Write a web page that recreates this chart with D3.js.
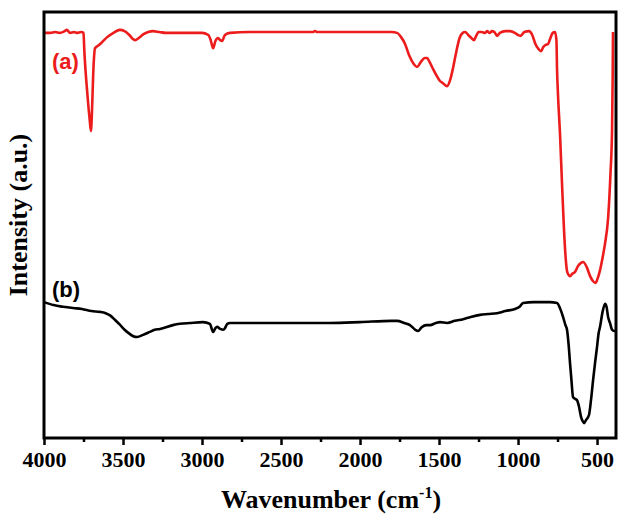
<!DOCTYPE html>
<html>
<head>
<meta charset="utf-8">
<script src="https://cdn.jsdelivr.net/npm/d3@7"></script>
<style>
  html, body { margin: 0; padding: 0; background: #fff; }
  svg { display: block; }
</style>
</head>
<body>
<svg id="chart" width="624" height="519"></svg>
<script>
// ---- Data (wavenumber cm^-1, intensity a.u.) ----
const wavenumberA = [4000,3960,3930,3900,3870,3855,3835,3810,3790,3765,3750,3745,3725,3710,3703,3696,3688,3677,3650,3620,3600,3560,3520,3490,3460,3435,3424,3400,3370,3340,3310,3270,3230,3100,3000,2960,2945,2930,2915,2899,2885,2873,2855,2823,2700,2500,2300,2285,2270,2000,1800,1766,1740,1715,1690,1660,1639,1615,1590,1576,1560,1535,1510,1494,1475,1460,1449,1430,1410,1390,1370,1350,1335,1315,1295,1279,1265,1250,1230,1210,1195,1180,1165,1150,1132,1115,1080,1050,1020,1000,985,960,930,910,890,870,855,840,825,810,795,780,766,757,753,747,734,722,709,698,690,680,671,655,639,620,601,588,565,544,525,510,495,481,465,450,430,415,405,401,399];
const intensityA  = [95.1,95.1,95.3,95.1,95.5,95.8,95.1,95.3,95.1,95.3,95.1,91.1,80.5,74.4,72.1,77.0,86.0,91.5,92.3,93.4,94.1,95.1,95.8,95.5,94.6,93.6,93.4,93.9,94.8,95.3,95.5,95.3,95.1,95.1,95.1,94.6,93.4,91.5,93.2,93.9,93.4,93.2,94.6,95.1,95.3,95.3,95.3,95.5,95.3,95.3,95.3,95.1,94.1,92.5,89.9,87.8,87.1,88.3,89.2,89.2,88.3,86.4,84.7,83.8,83.3,82.8,82.6,84.0,87.1,90.8,93.9,95.1,95.3,94.6,93.9,93.4,94.4,95.3,95.3,95.1,95.5,95.1,95.5,95.3,94.4,95.1,95.5,95.5,95.1,94.6,94.4,95.3,95.5,94.6,92.5,91.3,90.8,91.8,92.3,92.5,93.9,95.1,95.3,93.4,86.4,80.5,71.1,60.0,48.8,42.0,39.2,38.3,38.0,38.6,39.0,40.4,41.1,41.3,40.1,38.0,36.8,36.4,37.6,39.4,42.3,45.5,51.6,62.0,72.3,85.0,95.3];

const wavenumberB = [4000,3940,3880,3816,3760,3700,3646,3610,3582,3550,3520,3490,3460,3435,3411,3373,3330,3300,3266,3184,3140,3076,2994,2950,2930,2915,2905,2885,2865,2854,2840,2823,2600,2400,2190,2000,1800,1766,1720,1684,1650,1633,1610,1580,1557,1520,1494,1449,1400,1348,1300,1240,1190,1133,1080,1019,990,968,900,800,753,735,715,700,690,680,671,662,652,640,627,615,601,590,582,570,551,538,525,512,500,490,481,465,449,440,430,418,405,392,380];
const intensityB  = [31.9,31.2,30.8,30.5,30.3,29.8,29.6,29.3,28.8,27.7,26.6,25.4,24.5,23.9,23.7,24.2,24.9,25.4,25.6,26.5,26.8,27.0,27.2,26.8,24.9,25.8,26.1,25.6,25.4,25.8,26.8,27.0,27.0,27.0,27.0,27.2,27.5,27.5,27.0,26.5,25.4,25.1,26.0,26.5,26.5,27.0,27.2,27.0,27.5,27.9,28.4,28.9,29.1,29.3,29.8,30.3,30.8,31.7,31.9,31.9,31.7,30.5,28.4,26.5,25.4,22.0,17.6,13.6,9.6,9.2,8.9,7.5,4.9,3.9,3.5,4.2,5.4,9.0,13.6,17.8,21.4,24.6,26.1,29.6,31.5,30.8,28.4,27.0,25.4,25.1,25.1];

const xTicks = [4000,3500,3000,2500,2000,1500,1000,500];
const xMinorTicks = [3750,3250,2750,2250,1750,1250,750];
const seriesLabels = ["(a)", "(b)"];
const xTitle = "Wavenumber (cm";
const yTitle = "Intensity (a.u.)";

// ---- Layout ----
const mLeft = 44, mRight = 616, mTop = 12, mBottom = 438;
const svg = d3.select("#chart");
const x = d3.scaleLinear().domain([4000, 380]).range([mLeft, mRight]);
const y = d3.scaleLinear().domain([0, 100]).range([mBottom, mTop]);

const line = d3.line().x(d => x(d[0])).y(d => y(d[1])).curve(d3.curveMonotoneX);

const dataA = wavenumberA.map((w, i) => [w, intensityA[i]]);
const dataB = wavenumberB.map((w, i) => [w, intensityB[i]]);

svg.append("path").datum(dataA).attr("d", line)
  .attr("fill", "none").attr("stroke", "#ec1c1c").attr("stroke-width", 2.6).attr("stroke-linejoin", "round");
svg.append("path").datum(dataB).attr("d", line)
  .attr("fill", "none").attr("stroke", "#000").attr("stroke-width", 2.6).attr("stroke-linejoin", "round");

// frame
svg.append("rect").attr("x", mLeft).attr("y", mTop).attr("width", mRight - mLeft).attr("height", mBottom - mTop)
  .attr("fill", "none").attr("stroke", "#000").attr("stroke-width", 3);

// x axis
const axis = d3.axisBottom(x).tickValues(xTicks).tickSize(7).tickPadding(6).tickFormat(d3.format("d"));
const gx = svg.append("g").attr("transform", `translate(0,${mBottom})`).call(axis);
gx.select(".domain").remove();
gx.selectAll(".tick line").attr("stroke", "#000").attr("stroke-width", 2.5);
gx.selectAll(".tick text")
  .attr("font-family", "'Liberation Serif', 'Times New Roman', serif")
  .attr("font-weight", "bold").attr("font-size", 22).attr("fill", "#000");

const axisMinor = d3.axisBottom(x).tickValues(xMinorTicks).tickSize(4).tickFormat("");
const gm = svg.append("g").attr("transform", `translate(0,${mBottom})`).call(axisMinor);
gm.select(".domain").remove();
gm.selectAll(".tick line").attr("stroke", "#000").attr("stroke-width", 2.5);

// titles
const xt = svg.append("text").attr("x", 331).attr("y", 508).attr("text-anchor", "middle")
  .attr("font-family", "'Liberation Serif', 'Times New Roman', serif")
  .attr("font-weight", "bold").attr("font-size", 26).attr("fill", "#000");
xt.append("tspan").text(xTitle);
xt.append("tspan").attr("font-size", 16).attr("dy", -10).text("-1");
xt.append("tspan").attr("dy", 10).text(")");

svg.append("text").attr("transform", "translate(27,215) rotate(-90)").attr("text-anchor", "middle")
  .attr("font-family", "'Liberation Serif', 'Times New Roman', serif")
  .attr("font-weight", "bold").attr("font-size", 26).attr("fill", "#000").text(yTitle);

// series labels
svg.append("text").attr("x", 52).attr("y", 69)
  .attr("font-family", "'Liberation Sans', Arial, sans-serif").attr("font-weight", "bold")
  .attr("font-size", 22).attr("fill", "#ec1c1c").text(seriesLabels[0]);
svg.append("text").attr("x", 52).attr("y", 297)
  .attr("font-family", "'Liberation Sans', Arial, sans-serif").attr("font-weight", "bold")
  .attr("font-size", 22).attr("fill", "#000").text(seriesLabels[1]);
</script>
</body>
</html>
